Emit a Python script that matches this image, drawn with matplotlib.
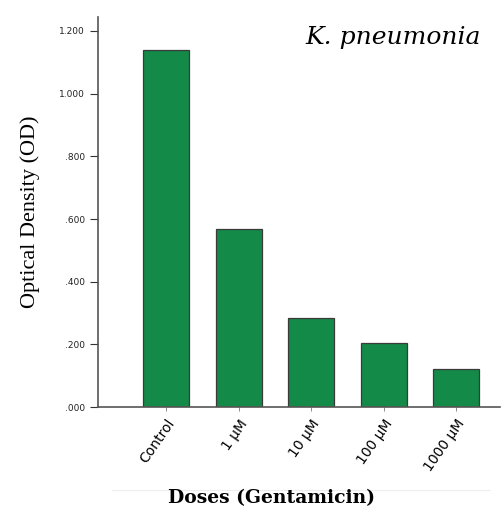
import matplotlib.pyplot as plt
from matplotlib.ticker import FuncFormatter
from matplotlib.lines import Line2D

doses = ["Control", "1 µM", "10 µM", "100 µM", "1000 µM"]
od = [1.138, 0.568, 0.284, 0.204, 0.121]
yticks = [0.0, 0.2, 0.4, 0.6, 0.8, 1.0, 1.2]

fig = plt.figure(figsize=(5.03, 5.12), dpi=100)
ax = fig.add_axes([0.195, 0.205, 0.80, 0.762])

x = list(range(len(doses)))
ax.bar(x, od, width=0.635, color="#138a48", edgecolor="#3a3a3a", linewidth=0.9)

ax.set_xlim(-0.94, 4.61)
ax.set_ylim(0, 1.245)
ax.set_yticks(yticks)
ax.yaxis.set_major_formatter(FuncFormatter(lambda v, p: f"{v:.3f}".lstrip("0") if v < 1 else f"{v:,.3f}"))
ax.tick_params(axis="y", labelsize=6.5, length=6, width=0.8, colors="#333333", labelcolor="#222222")
ax.set_xticks(x)
ax.set_xticklabels(doses, rotation=55, ha="right", rotation_mode="anchor", fontsize=10)
ax.tick_params(axis="x", length=3, width=0.6, color="#777777", pad=4)

for s in ["top", "right"]:
    ax.spines[s].set_visible(False)
for s in ["left", "bottom"]:
    ax.spines[s].set_color("#555555")
    ax.spines[s].set_linewidth(1.2)

ax.set_ylabel("Optical Density (OD)", family="Liberation Serif", fontsize=16, labelpad=14)
ax.text(0.515, 0.93, "K. pneumonia", transform=ax.transAxes, family="DejaVu Serif",
        style="italic", fontsize=18)

fig.add_artist(Line2D([0.223, 0.975], [0.043, 0.043], color="#eeeeee", linewidth=0.8))
fig.text(0.54, 0.028, "Doses (Gentamicin)", family="DejaVu Serif", weight="bold",
         fontsize=13.5, ha="center", va="center")

fig.savefig("out.png", dpi=100)
